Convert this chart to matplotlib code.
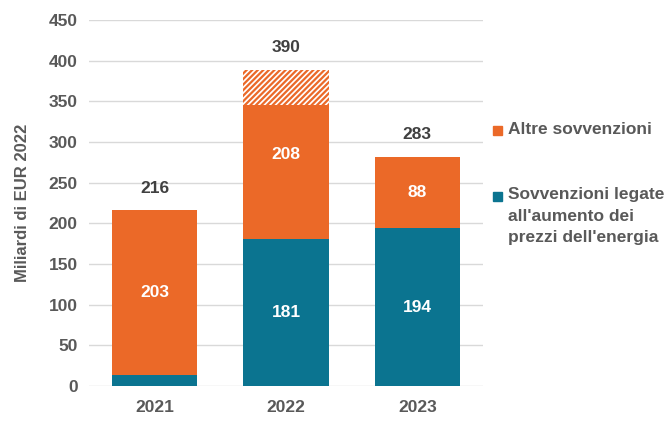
import numpy as np
import matplotlib.pyplot as plt
from matplotlib.patches import Rectangle

plt.rcParams['font.family'] = ['Liberation Sans', 'DejaVu Sans']

years = ['2021', '2022', '2023']
energy = [13, 181, 194]          # sovvenzioni legate all'energia
other_solid = [203, 164, 88]     # altre sovvenzioni (pieno)
other_hatched = [0, 44, 0]       # parte tratteggiata
energy_labels = ['', '181', '194']
other_labels = ['203', '208', '88']
totals = ['216', '390', '283']

teal = '#0B7490'
orange = '#EB6928'
grey = '#595959'

fig = plt.figure(figsize=(6.68, 4.21), dpi=100)
ax = fig.add_axes([0.1332, 0.0831, 0.5898, 0.8694])

x = np.arange(len(years))
w = 0.65
energy = np.array(energy)
other_solid = np.array(other_solid)
other_hatched = np.array(other_hatched)

ax.bar(x, energy, w, color=teal, zorder=3)
ax.bar(x, other_solid, w, bottom=energy, color=orange, zorder=3)
plt.rcParams['hatch.linewidth'] = 1.6
ax.bar(x, other_hatched, w, bottom=energy + other_solid, color='white',
       edgecolor=orange, hatch='//////', linewidth=0, zorder=3)

for i in range(len(years)):
    if energy_labels[i]:
        ax.text(x[i], energy[i] / 2, energy_labels[i], ha='center', va='center',
                color='white', fontsize=12.5, fontweight='bold', zorder=4)
    mid = energy[i] + (other_solid[i] + other_hatched[i]) / 2
    ax.text(x[i], mid, other_labels[i], ha='center', va='center',
            color='white', fontsize=12.5, fontweight='bold', zorder=4)
    top = energy[i] + other_solid[i] + other_hatched[i]
    ax.annotate(totals[i], (x[i], top), xytext=(0, 16), textcoords='offset points',
                ha='center', va='center', color='#404040', fontsize=12.5, fontweight='bold')

ax.set_xlim(-0.5, 2.5)
ax.set_ylim(0, 450)
ax.set_yticks(np.arange(0, 451, 50))
ax.set_xticks(x)
ax.set_xticklabels(years)
ax.grid(axis='y', color='#D9D9D9', linewidth=1, zorder=0)
for s in ax.spines.values():
    s.set_visible(False)
ax.tick_params(length=0, labelsize=12.5, labelcolor=grey, pad=8)
for lab in ax.get_xticklabels() + ax.get_yticklabels():
    lab.set_fontweight('bold')
ax.tick_params(axis='x', pad=10)
ax.set_ylabel('Miliardi di EUR 2022', fontsize=12, color=grey, fontweight='bold')
ax.yaxis.set_label_coords(-0.15, 0.5)

# legend
fig.patches.append(Rectangle((493 / 668, 1 - 135 / 421), 9 / 668, 9 / 421,
                             transform=fig.transFigure, color=orange))
fig.text(508 / 668, 1 - 130 / 421, 'Altre sovvenzioni', fontsize=12.5,
         color=grey, fontweight='bold', va='center')
fig.patches.append(Rectangle((493 / 668, 1 - 201 / 421), 9 / 668, 9 / 421,
                             transform=fig.transFigure, color=teal))
fig.text(508 / 668, 1 - 187 / 421,
         "Sovvenzioni legate\nall'aumento dei\nprezzi dell'energia",
         fontsize=12.5, color=grey, fontweight='bold', va='top', linespacing=1.55)

fig.savefig('out.png', dpi=100)
